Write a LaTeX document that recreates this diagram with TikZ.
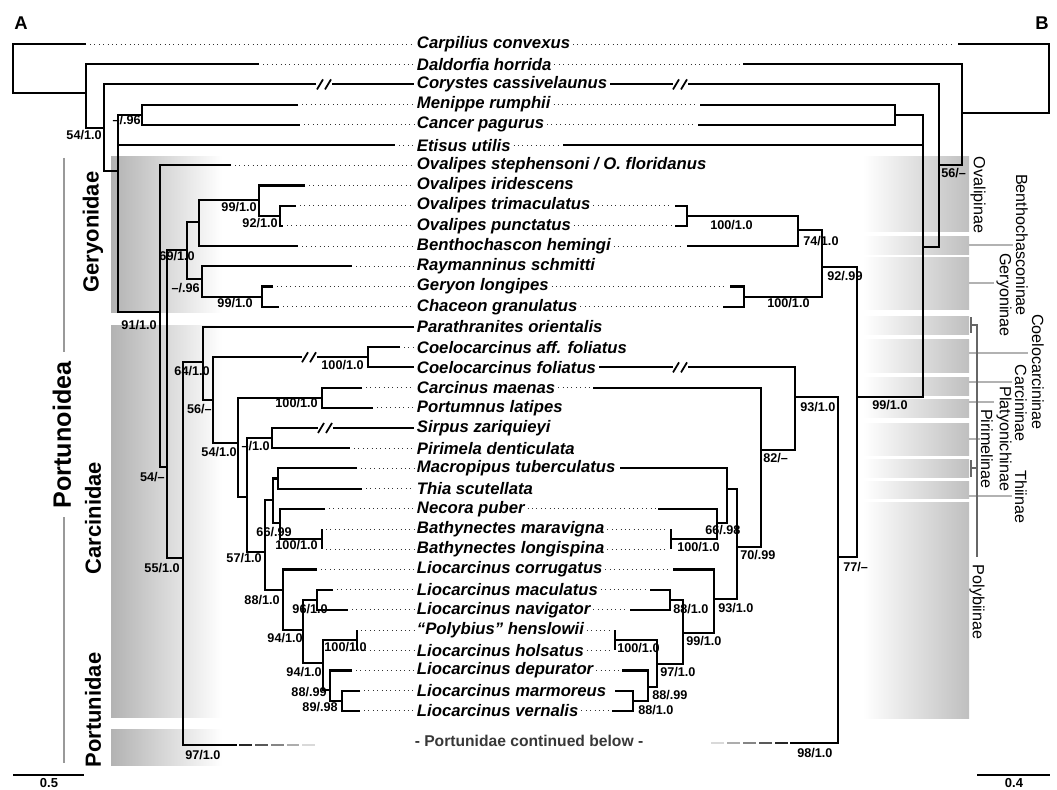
\documentclass[tikz,border=0pt]{standalone}
\usepackage{fontspec}
\setmainfont{Liberation Sans}
\tikzset{
  br/.style={line width=1.2pt},
  lead/.style={dotted, line width=0.5pt, black!80},
  taxon/.style={anchor=west, inner sep=1.5pt, font=\fontsize{9.5}{11}\selectfont\bfseries\itshape},
  supl/.style={anchor=east, inner sep=0pt, font=\fontsize{7.2}{8}\selectfont\bfseries},
  supr/.style={anchor=west, inner sep=0pt, font=\fontsize{7.2}{8}\selectfont\bfseries},
  family/.style={rotate=90, inner sep=0pt, font=\fontsize{12.5}{14}\selectfont\bfseries},
  subfam/.style={rotate=-90, inner sep=0pt, font=\fontsize{9.2}{10}\selectfont},
  tick/.style={black!30, line width=1pt},
  bracket/.style={black!60, line width=1pt},
  leftbox/.style={left color=black!30, right color=white},
  rightbox/.style={left color=white, right color=black!25}
}
\newcommand{\brkmark}[2]{\draw[line width=1pt] ({#1-7},{#2+5}) -- ({#1-1},{#2-5}) ({#1+1},{#2+5}) -- ({#1+7},{#2-5});}
\begin{document}
\begin{tikzpicture}[x=0.02cm, y=-0.02cm, declare function={rowy(\k)=44+20.21*(\k-1);}]
\useasboundingbox (0,0) rectangle (1057,790);

\shade[leftbox] (111,157) rectangle (222,312);
\shade[leftbox] (111,325) rectangle (222,717);
\shade[leftbox] (111,729) rectangle (222,765);
\foreach \ya/\yb in {157/232, 237/255, 258/309, 316/334, 339/372, 377/395, 399/417, 423/455, 459/477, 481/498, 502/718}
  \shade[rightbox] (863,\ya) rectangle (969,\yb);

\node[taxon] (t1) at (414,{rowy(1)}) {Carpilius convexus};
\node[taxon] (t2) at (414,{rowy(2)}) {Daldorfia horrida};
\node[taxon] (t3) at (414,{rowy(3)}) {Corystes cassivelaunus};
\node[taxon] (t4) at (414,{rowy(4)}) {Menippe rumphii};
\node[taxon] (t5) at (414,{rowy(5)}) {Cancer pagurus};
\node[taxon] (t6) at (414,{rowy(6)}) {Etisus utilis};
\node[taxon] (t7) at (414,{rowy(7)}) {Ovalipes stephensoni / O. floridanus};
\node[taxon] (t8) at (414,{rowy(8)}) {Ovalipes iridescens};
\node[taxon] (t9) at (414,{rowy(9)}) {Ovalipes trimaculatus};
\node[taxon] (t10) at (414,{rowy(10)}) {Ovalipes punctatus};
\node[taxon] (t11) at (414,{rowy(11)}) {Benthochascon hemingi};
\node[taxon] (t12) at (414,{rowy(12)}) {Raymanninus schmitti};
\node[taxon] (t13) at (414,{rowy(13)}) {Geryon longipes};
\node[taxon] (t14) at (414,{rowy(14)}) {Chaceon granulatus};
\node[taxon] (t15) at (414,{rowy(15)}) {Parathranites orientalis};
\node[taxon] (t16) at (414,{rowy(16)}) {Coelocarcinus aff. foliatus};
\node[taxon] (t17) at (414,{rowy(17)}) {Coelocarcinus foliatus};
\node[taxon] (t18) at (414,{rowy(18)}) {Carcinus maenas};
\node[taxon] (t19) at (414,{rowy(19)}) {Portumnus latipes};
\node[taxon] (t20) at (414,{rowy(20)}) {Sirpus zariquieyi};
\node[taxon] (t21) at (414,{rowy(21)}) {Pirimela denticulata};
\node[taxon] (t22) at (414,{rowy(22)}) {Macropipus tuberculatus};
\node[taxon] (t23) at (414,{rowy(23)}) {Thia scutellata};
\node[taxon] (t24) at (414,{rowy(24)}) {Necora puber};
\node[taxon] (t25) at (414,{rowy(25)}) {Bathynectes maravigna};
\node[taxon] (t26) at (414,{rowy(26)}) {Bathynectes longispina};
\node[taxon] (t27) at (414,{rowy(27)}) {Liocarcinus corrugatus};
\node[taxon] (t28) at (414,{rowy(28)}) {Liocarcinus maculatus};
\node[taxon] (t29) at (414,{rowy(29)}) {Liocarcinus navigator};
\node[taxon] (t30) at (414,{rowy(30)}) {“Polybius” henslowii};
\node[taxon] (t31) at (414,{rowy(31)}) {Liocarcinus holsatus};
\node[taxon] (t32) at (414,{rowy(32)}) {Liocarcinus depurator};
\node[taxon] (t33) at (414,{rowy(33)}) {Liocarcinus marmoreus};
\node[taxon] (t34) at (414,{rowy(34)}) {Liocarcinus vernalis};

\foreach \i/\x in {1/86, 2/259, 4/298, 5/300, 6/395, 7/231, 8/305, 9/296, 10/283, 11/298, 12/352, 13/273, 14/279, 16/400, 18/362, 19/373, 21/350, 22/357, 23/362, 24/325, 25/322, 26/322, 27/317, 28/333, 29/348, 30/357, 31/357, 32/352, 33/360, 34/360}
  \draw[lead] ({\x+4},{rowy(\i)}) -- (t\i.west);
\foreach \i/\x in {1/958, 2/743, 4/700, 5/698, 6/563, 9/675, 10/675, 11/687, 13/730, 14/723, 18/593, 24/658, 25/671, 26/671, 27/673, 28/650, 29/630, 30/615, 31/615, 32/622, 34/612}
  \draw[lead] (t\i.east) -- ({\x-3},{rowy(\i)});

\draw[br] (86,{rowy(1)}) -| (13,93) -- (86,93);
\draw[br] (259,{rowy(2)}) -| (86,128) -- (104,128);
\draw[br] (316,{rowy(3)}) -| (104,171) -- (118,171);
\draw[br] (332,{rowy(3)}) -- (t3.west);
\brkmark{324}{rowy(3)}
\draw[br] (142,{(rowy(4)+rowy(5))/2}) -| (118,312) -- (160,312);
\draw[br] (118,{rowy(6)}) -- (395,{rowy(6)});
\draw[br] (298,{rowy(4)}) -| (142,{rowy(5)}) -- (300,{rowy(5)});
\draw[br] (231,{rowy(7)}) -| (160,467) -- (167,467);
\draw[br] (187,250) -| (167,558) -- (183,558);
\draw[br] (199,222) -| (187,279) -- (202,279);
\draw[br] (259,200) -| (199,{rowy(11)}) -- (298,{rowy(11)});
\draw[br] (305,{rowy(8)}) -| (259,{(rowy(9)+rowy(10))/2}) -- (280,{(rowy(9)+rowy(10))/2});
\draw[br] (296,{rowy(9)}) -| (280,{rowy(10)}) -- (283,{rowy(10)});
\draw[br] (352,{rowy(12)}) -| (202,{(rowy(13)+rowy(14))/2}) -- (262,{(rowy(13)+rowy(14))/2});
\draw[br] (273,{rowy(13)}) -| (262,{rowy(14)}) -- (279,{rowy(14)});
\draw[br] (203,362) -| (183,745) -- (237,745);
\draw[br] (t15.west) -| (203,400) -- (213,400);
\draw[br] (302,{(rowy(16)+rowy(17))/2}) -| (213,443) -- (238,443);
\draw[br] (317,{(rowy(16)+rowy(17))/2}) -- (368,{(rowy(16)+rowy(17))/2});
\brkmark{309}{(rowy(16)+rowy(17))/2}
\draw[br] (400,{rowy(16)}) -| (368,{rowy(17)}) -- (t17.west);
\draw[br] (322,{(rowy(18)+rowy(19))/2}) -| (238,497) -- (247,497);
\draw[br] (362,{rowy(18)}) -| (322,{rowy(19)}) -- (373,{rowy(19)});
\draw[br] (272,{(rowy(20)+rowy(21))/2}) -| (247,552) -- (265,552);
\draw[br] (318,{rowy(20)}) -| (272,{rowy(21)}) -- (350,{rowy(21)});
\draw[br] (333,{rowy(20)}) -- (t20.west);
\brkmark{325}{rowy(20)}
\draw[br] (273,500) -| (265,590) -- (283,590);
\draw[br] (278,{(rowy(22)+rowy(23))/2}) -| (273,523) -- (280,523);
\draw[br] (357,{rowy(22)}) -| (278,{rowy(23)}) -- (362,{rowy(23)});
\draw[br] (325,{rowy(24)}) -| (280,{(rowy(25)+rowy(26))/2}) -- (322,{(rowy(25)+rowy(26))/2});
\draw[br] (322,{rowy(25)}) -- (322,{rowy(26)});
\draw[br] (317,{rowy(27)}) -| (283,630) -- (303,630);
\draw[br] (317,600) -| (303,663) -- (323,663);
\draw[br] (333,{rowy(28)}) -| (317,{rowy(29)}) -- (348,{rowy(29)});
\draw[br] (357,640) -| (323,690) -- (330,690);
\draw[br] (357,{rowy(30)}) -- (357,{rowy(31)});
\draw[br] (352,{rowy(32)}) -| (330,{(rowy(33)+rowy(34))/2}) -- (342,{(rowy(33)+rowy(34))/2});
\draw[br] (360,{rowy(33)}) -| (342,{rowy(34)}) -- (360,{rowy(34)});
\draw[br, black!85] (239,745) -- (252,745);
\draw[br, black!65] (255,745) -- (268,745);
\draw[br, black!48] (271,745) -- (284,745);
\draw[br, black!32] (287,745) -- (299,745);
\draw[br, black!15] (302,745) -- (315,745);

\draw[br] (958,{rowy(1)}) -| (1049,113) -- (962,113);
\draw[br] (743,{rowy(2)}) -| (962,165) -- (939,165);
\draw[br] (688,{rowy(3)}) -| (939,247) -- (923,247);
\draw[br] (t3.east) -- (673,{rowy(3)});
\brkmark{680}{rowy(3)}
\draw[br] (895,{(rowy(4)+rowy(5))/2}) -| (923,397) -- (857,397);
\draw[br] (563,{rowy(6)}) -- (923,{rowy(6)});
\draw[br] (700,{rowy(4)}) -| (895,{rowy(5)}) -- (698,{rowy(5)});
\draw[br] (822,267) -| (857,557) -- (838,557);
\draw[br] (798,230) -| (822,{(rowy(13)+rowy(14))/2}) -- (744,{(rowy(13)+rowy(14))/2});
\draw[br] (687,{(rowy(9)+rowy(10))/2}) -| (798,{rowy(11)}) -- (687,{rowy(11)});
\draw[br] (675,{rowy(9)}) -| (687,{rowy(10)}) -- (675,{rowy(10)});
\draw[br] (730,{rowy(13)}) -| (744,{rowy(14)}) -- (723,{rowy(14)});
\draw[br] (795,397) -| (838,743) -- (790,743);
\draw[br] (688,{rowy(17)}) -| (795,450) -- (761,450);
\draw[br] (t17.east) -- (673,{rowy(17)});
\brkmark{680}{rowy(17)}
\draw[br] (593,{rowy(18)}) -| (761,547) -- (737,547);
\draw[br] (727,489) -| (737,599) -- (714,599);
\draw[br] (620,{rowy(22)}) -| (727,523) -- (717,523);
\draw[br] (658,{rowy(24)}) -| (717,{(rowy(25)+rowy(26))/2}) -- (671,{(rowy(25)+rowy(26))/2});
\draw[br] (671,{rowy(25)}) -- (671,{rowy(26)});
\draw[br] (673,{rowy(27)}) -| (714,633) -- (683,633);
\draw[br] (670,600) -| (683,664) -- (657,664);
\draw[br] (650,{rowy(28)}) -| (670,{rowy(29)}) -- (630,{rowy(29)});
\draw[br] (615,640) -| (657,687) -- (648,687);
\draw[br] (615,{rowy(30)}) -- (615,{rowy(31)});
\draw[br] (622,{rowy(32)}) -| (648,{(rowy(33)+rowy(34))/2}) -- (633,{(rowy(33)+rowy(34))/2});
\draw[br] (615,{rowy(33)}) -| (633,{rowy(34)}) -- (612,{rowy(34)});
\draw[br, black!85] (788,743) -- (775,743);
\draw[br, black!65] (772,743) -- (759,743);
\draw[br, black!48] (756,743) -- (743,743);
\draw[br, black!32] (740,743) -- (727,743);
\draw[br, black!15] (724,743) -- (711,743);

\node[supl] (a1) at (102,135) {54/1.0};
\node[supl] (a2) at (141,120) {–/.96};
\node[supl] (a3) at (257,207) {99/1.0};
\node[supl] (a4) at (278,223) {92/1.0};
\node[supl] (a5) at (195,256) {69/1.0};
\node[supl] (a6) at (200,288) {–/.96};
\node[supl] (a7) at (253,303) {99/1.0};
\node[supl] (a8) at (157,325) {91/1.0};
\node[supl] (a9) at (210,371) {64/1.0};
\node[supl] (a10) at (364,365) {100/1.0};
\node[supl] (a11) at (212,409) {56/–};
\node[supl] (a12) at (318,403) {100/1.0};
\node[supl] (a13) at (270,446) {–/1.0};
\node[supl] (a14) at (237,452) {54/1.0};
\node[supl] (a15) at (165,477) {54/–};
\node[supl] (a16) at (292,532) {66/.99};
\node[supl] (a17) at (318,545) {100/1.0};
\node[supl] (a18) at (262,558) {57/1.0};
\node[supl] (a19) at (180,568) {55/1.0};
\node[supl] (a20) at (280,600) {88/1.0};
\node[supl] (a21) at (328,609) {96/1.0};
\node[supl] (a22) at (303,638) {94/1.0};
\node[supl] (a23) at (367,647) {100/1.0};
\node[supl] (a24) at (322,672) {94/1.0};
\node[supl] (a25) at (327,692) {88/.99};
\node[supl] (a26) at (338,707) {89/.98};
\node[supr] (a27) at (185,755) {97/1.0};

\node[supr] (b1) at (941,173) {56/–};
\node[supr] (b2) at (710,225) {100/1.0};
\node[supr] (b3) at (803,241) {74/1.0};
\node[supr] (b4) at (827,276) {92/.99};
\node[supr] (b5) at (767,303) {100/1.0};
\node[supr] (b6) at (872,405) {99/1.0};
\node[supr] (b7) at (800,407) {93/1.0};
\node[supr] (b8) at (763,458) {82/–};
\node[supr] (b9) at (705,530) {66/.98};
\node[supr] (b10) at (677,547) {100/1.0};
\node[supr] (b11) at (740,555) {70/.99};
\node[supr] (b12) at (843,567) {77/–};
\node[supr] (b13) at (718,608) {93/1.0};
\node[supr] (b14) at (673,609) {88/1.0};
\node[supr] (b15) at (686,641) {99/1.0};
\node[supr] (b16) at (617,648) {100/1.0};
\node[supr] (b17) at (660,672) {97/1.0};
\node[supr] (b18) at (652,695) {88/.99};
\node[supr] (b19) at (638,710) {88/1.0};
\node[supr] (b20) at (797,753) {98/1.0};

\node[font=\fontsize{8.9}{10}\selectfont\bfseries, text=black!78] (cont) at (529,741) {- Portunidae continued below -};

\draw[black!40, line width=1pt] (64,158) -- (64,352) (64,517) -- (64,763);
\node[family, font=\fontsize{14.3}{16}\selectfont\bfseries] (supf) at (62,435) {Portunoidea};
\node[family] (gery) at (93,232) {Geryonidae};
\node[family] (carc) at (93,518) {Carcinidae};
\node[family] (port) at (93,710) {Portunidae};

\draw[tick] (969,245) -- (1013,245);
\draw[tick] (969,283) -- (994,283);
\draw[tick] (969,353) -- (1028,353);
\draw[tick] (969,382) -- (1012,382);
\draw[tick] (969,402) -- (994,402);
\draw[tick] (969,439) -- (980,439);
\draw[tick] (969,496) -- (1012,496);
\draw[bracket] (971,317) -- (971,333) (971,325) -- (977,325) -- (977,557);
\draw[bracket] (971,460) -- (971,477) (971,468) -- (977,468);
\node[subfam] (ov) at (978,195) {Ovalipinae};
\node[subfam] (be) at (1022,245) {Benthochasconinae};
\node[subfam] (ge) at (1004,295) {Geryoninae};
\node[subfam] (co) at (1038,372) {Coelocarcininae};
\node[subfam] (ca) at (1021,403) {Carcininae};
\node[subfam] (pl) at (1004,439) {Platyonichinae};
\node[subfam] (pi) at (987,449) {Pirimelinae};
\node[subfam] (th) at (1021,497) {Thiinae};
\node[subfam] (po) at (977,602) {Polybiinae};

\node[font=\fontsize{10.5}{12}\selectfont\bfseries] (pa) at (21,23) {A};
\node[font=\fontsize{10.5}{12}\selectfont\bfseries] (pb) at (1042,23) {B};
\draw[line width=1.2pt] (13,775) -- (84,775);
\node[font=\fontsize{7.4}{8}\selectfont\bfseries, inner sep=0pt] (sa) at (49,783) {0.5};
\draw[line width=1.2pt] (977,775) -- (1050,775);
\node[font=\fontsize{7.4}{8}\selectfont\bfseries, inner sep=0pt] (sb) at (1014,783) {0.4};
\end{tikzpicture}
\end{document}
